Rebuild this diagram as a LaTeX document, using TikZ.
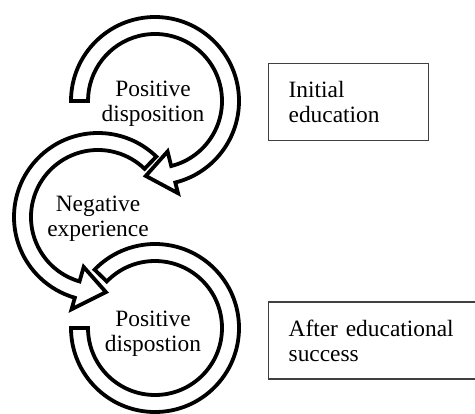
\documentclass[tikz,border=0pt]{standalone}
\usepackage{fontspec}
\setmainfont{Liberation Serif}
\usetikzlibrary{positioning}
\tikzstyle{ring}=[draw=black,fill=white,line width=1.9pt]
\tikzstyle{lbl}=[align=center,inner sep=0pt,font=\fontsize{11.7}{12.5}\selectfont]
\tikzstyle{note}=[draw=black!75,line width=0.65pt,anchor=north west,align=left,inner xsep=10pt,inner ysep=0pt,minimum height=38.5pt,font=\fontsize{11.7}{12.5}\selectfont]

\begin{document}
\begin{tikzpicture}[x=0.5pt,y=0.5pt]
    \clip (0,0) rectangle (475,413);
    % lower ring, open at the left
    \begin{scope}[shift={(155,85)}]
        \draw[ring] (180:84) arc[start angle=180,end angle=496,radius=84]
            -- (496:67) arc[start angle=496,end angle=180,radius=67] -- cycle;
    \end{scope}
    % middle ring, head pointing into the lower one
    \begin{scope}[shift={(98,196)}]
        \draw[ring] (46:84) arc[start angle=46,end angle=254,radius=84]
            -- (254:96) -- (276:75.5) -- (254:52)
            -- (254:67) arc[start angle=254,end angle=46,radius=67] -- cycle;
    \end{scope}
    % upper ring, head pointing into the middle one
    \begin{scope}[shift={(155,312)}]
        \draw[ring] (180:84) arc[start angle=180,end angle=-76,radius=84]
            -- (-76:95) -- (-97:75.5) -- (-76:52)
            -- (-76:67) arc[start angle=-76,end angle=180,radius=67] -- cycle;
    \end{scope}
    % labels inside the rings
    \foreach \p/\n/\t in {{153,309}/posa/{Positive\\disposition},
                          {98,194}/neg/{Negative\\experience},
                          {153,79}/posb/{Positive\\dispostion}}
        \node[lbl] (\n) at (\p) {\t};
    % stages on the right
    \node[note,text width=60pt] (init) at (268,350) {Initial\\education};
    \node[note,text width=86pt,below=80pt of init.south west,anchor=north west] (after) {After educational\\success};
\end{tikzpicture}
\end{document}
